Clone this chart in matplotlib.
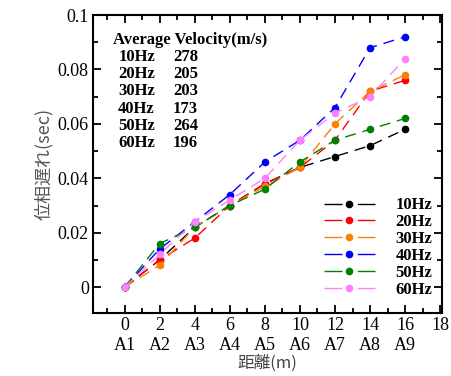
import matplotlib
matplotlib.use("Agg")
import matplotlib.pyplot as plt
from matplotlib.lines import Line2D
from matplotlib.ticker import MultipleLocator

# distance along the array (m) and sensor names
distance = [0, 2, 4, 6, 8, 10, 12, 14, 16]
sensors = ["A1", "A2", "A3", "A4", "A5", "A6", "A7", "A8", "A9"]

# phase delay (sec) per frequency
delay_10 = [0, 0.010, 0.022, 0.030, 0.038, 0.044, 0.048, 0.052, 0.058]
delay_20 = [0, 0.010, 0.018, 0.030, 0.038, 0.044, 0.054, 0.072, 0.076]
delay_30 = [0, 0.008, 0.022, 0.030, 0.037, 0.044, 0.060, 0.072, 0.078]
delay_40 = [0, 0.014, 0.024, 0.034, 0.046, 0.054, 0.066, 0.088, 0.092]
delay_50 = [0, 0.016, 0.022, 0.030, 0.036, 0.046, 0.054, 0.058, 0.062]
delay_60 = [0, 0.012, 0.024, 0.032, 0.040, 0.054, 0.064, 0.070, 0.084]

freq_labels = ["10Hz", "20Hz", "30Hz", "40Hz", "50Hz", "60Hz"]
velocities = [278, 205, 203, 173, 264, 196]
colors = ["black", "#ff0000", "#ff8000", "#0000ff", "#008000", "#ff80ff"]

SERIF = "Liberation Serif"
CJK = ["Noto Sans CJK JP", "DejaVu Sans"]

fig = plt.figure(figsize=(4.51, 3.76), dpi=100)
ax = fig.add_axes([93 / 451, 63 / 376, 349 / 451, 298 / 376])

series = [delay_10, delay_20, delay_30, delay_40, delay_50, delay_60]
for ys, col in zip(series, colors):
    ax.plot(distance, ys, color=col, linestyle=(0, (8, 5)), linewidth=1.0,
            marker="o", markersize=4.5)

ax.set_xlim(-1.8, 18.1)
ax.set_ylim(-0.0095, 0.1)
ax.xaxis.set_major_locator(MultipleLocator(2))
ax.xaxis.set_minor_locator(MultipleLocator(1))
ax.yaxis.set_major_locator(MultipleLocator(0.02))
ax.yaxis.set_minor_locator(MultipleLocator(0.01))

xt = list(range(0, 20, 2))
xl = [f"{d}\n{s}" for d, s in zip(distance, sensors)] + ["18\n"]
ax.set_xticks(xt)
ax.set_xticklabels(xl, fontfamily=SERIF, fontsize=13, linespacing=1.25)
ax.set_yticks([0, 0.02, 0.04, 0.06, 0.08, 0.1])
ax.set_yticklabels(["0", "0.02", "0.04", "0.06", "0.08", "0.1"],
                   fontfamily=SERIF, fontsize=13)

ax.tick_params(which="both", direction="in", top=True, right=True, width=1.3)
ax.tick_params(which="major", length=6, pad=3)
ax.tick_params(which="minor", length=3.5)
for sp in ax.spines.values():
    sp.set_linewidth(1.5)

ax.set_xlabel("距離(m)", family=CJK, fontsize=12, color="#444444", labelpad=0)
ax.set_ylabel("位相遅れ(sec)", family=CJK, fontsize=13, color="#555555", labelpad=3)

# velocity table in the upper-left corner
TXT = dict(transform=ax.transAxes, fontfamily=SERIF, fontweight="bold",
           fontsize=12, va="center")
ax.text(0.058, 0.916, "Average Velocity(m/s)", **TXT)
for i, (lab, v) in enumerate(zip(freq_labels, velocities)):
    yy = 0.859 - i * 0.0577
    ax.text(0.072, yy, lab, **TXT)
    ax.text(0.229, yy, str(v), **TXT)

# legend keys: dash, marker, dash
handles = [Line2D([], [], color=c, linestyle=(0, (13, 11)), linewidth=1.0,
                  marker="o", markersize=4.5) for c in colors]
ax.legend(handles, freq_labels, loc="lower right", bbox_to_anchor=(1.0, 0.018),
          frameon=False, prop={"family": SERIF, "weight": "bold", "size": 12},
          handlelength=3.1, labelspacing=0.05, handletextpad=1.2,
          borderaxespad=0.2)

fig.savefig("out.png", dpi=100)
